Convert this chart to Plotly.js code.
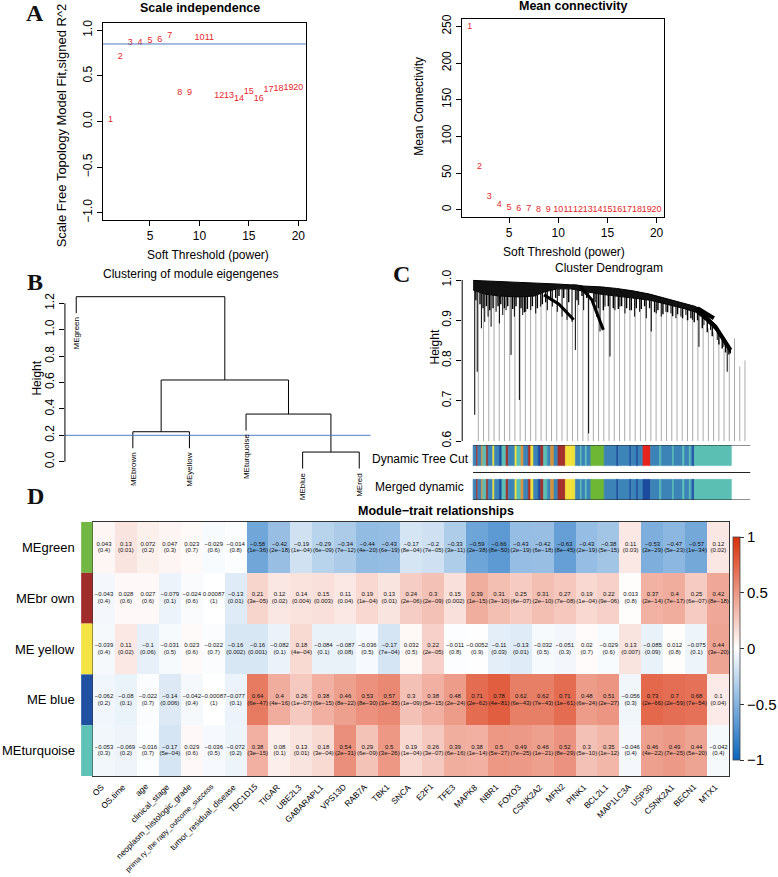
<!DOCTYPE html>
<html><head><meta charset="utf-8">
<script src="https://cdn.plot.ly/plotly-3.0.1.min.js"></script>
<style>html,body{margin:0;padding:0;background:#fff;}#chart{width:778px;height:877px;}</style>
</head><body><div id="chart"></div>
<script>
// ---------------- DATA ----------------
// Panel A: soft-threshold analysis
const powers = [1,2,3,4,5,6,7,8,9,10,11,12,13,14,15,16,17,18,19,20];
const sftFit = [0.02,0.71,0.865,0.86,0.88,0.90,0.94,0.31,0.31,0.92,0.92,0.28,0.285,0.25,0.33,0.25,0.345,0.355,0.373,0.375];
const meanK  = [249,59,18,7.2,2.7,1.4,0.8,0.5,0.35,0.25,0.2,0.15,0.12,0.1,0.08,0.07,0.06,0.05,0.04,0.03];
const r2Cut = 0.85;

// Panel B: eigengene clustering (R hclust style merge table)
const meLeaves = ['MEgreen','MEbrown','MEyellow','MEturquoise','MEblue','MEred'];
const mergeA = [-5,-2,-4,2,-1];
const mergeB = [-6,-3,1,3,4];
const mergeH = [0.073,0.227,0.361,0.619,1.25];
const meCutHeight = 0.2;

// Panel C: gene dendrogram (sketched from picture), leaf fraction positions
const canopyPos    = [0,0.042,0.101,0.161,0.22,0.256,0.304,0.351,0.369,0.399,0.458,0.518,0.577,0.637,0.696,0.756,0.804,0.839,0.875,0.911,0.929];
const canopyTop    = [0.999,0.998,0.996,0.994,0.993,0.992,0.99,0.988,0.988,0.985,0.983,0.979,0.973,0.965,0.954,0.942,0.934,0.913,0.888,0.851,0.83];
const canopyBottom = [0.975,0.965,0.96,0.958,0.96,0.97,0.978,0.978,0.975,0.972,0.965,0.96,0.955,0.95,0.94,0.93,0.92,0.9,0.876,0.838,0.818];
const hairPos    = [0.006,0.015,0.030,0.042,0.054,0.065,0.083,0.095,0.107,0.119,0.137,0.149,0.167,0.179,0.190,0.208,0.226,0.244,0.268,0.286,0.304,0.321,0.339,0.357,0.369,0.381,0.399,0.417,0.435,0.446,0.458,0.476,0.494,0.512,0.530,0.548,0.565,0.583,0.601,0.625,0.643,0.661,0.679,0.696,0.714,0.732,0.750,0.768,0.792,0.815,0.833,0.857,0.881,0.905,0.917];
const hairBottom = [0.665,0.772,0.88,0.896,0.909,0.884,0.921,0.892,0.913,0.925,0.814,0.909,0.702,0.913,0.921,0.925,0.917,0.934,0.925,0.934,0.921,0.909,0.901,0.896,0.826,0.938,0.925,0.619,0.934,0.909,0.872,0.934,0.81,0.925,0.934,0.917,0.925,0.909,0.921,0.905,0.872,0.917,0.909,0.921,0.917,0.905,0.909,0.913,0.901,0.834,0.888,0.876,0.851,0.834,0.772];
const shortHairPos = [0.01,0.025,0.036,0.048,0.06,0.072,0.09,0.1,0.113,0.125,0.143,0.155,0.173,0.185,0.196,0.214,0.232,0.25,0.262,0.28,0.298,0.31,0.327,0.345,0.375,0.393,0.41,0.44,0.452,0.47,0.488,0.506,0.524,0.536,0.554,0.571,0.589,0.607,0.619,0.637,0.655,0.667,0.685,0.702,0.72,0.738,0.756,0.774,0.786,0.798,0.81,0.827,0.845,0.863,0.887,0.899,0.911,0.923];
const shortHairBottom = [0.95,0.94,0.93,0.935,0.925,0.93,0.935,0.94,0.93,0.935,0.928,0.935,0.93,0.92,0.928,0.935,0.93,0.94,0.945,0.95,0.955,0.96,0.955,0.945,0.95,0.96,0.955,0.945,0.93,0.925,0.935,0.93,0.928,0.935,0.93,0.925,0.93,0.928,0.935,0.93,0.92,0.925,0.915,0.92,0.91,0.915,0.905,0.9,0.905,0.895,0.9,0.88,0.87,0.86,0.84,0.83,0.82,0.815];
const grayTop = [0.99,0.99,0.99,0.99,0.99,0.99,0.99,0.99,0.99,0.988,0.985,0.975,0.97,0.965,0.955,0.945,0.935,0.925,0.91,0.985,0.98,0.97,0.955,0.93,0.985,0.98,0.975,0.97,0.965,0.96,0.955,0.95,0.95,0.945,0.94,0.94,0.935,0.935,0.93,0.925,0.92,0.915,0.905,0.89,0.88,0.87,0.85,0.83,0.84,0.855,0.785,0.80];
const armPaths = [
  {pos:[0.256,0.31,0.363], h:[0.963,0.94,0.901], w:3},
  {pos:[0.387,0.429,0.47], h:[0.983,0.95,0.876], w:3},
  {pos:[0.804,0.875,0.929], h:[0.93,0.884,0.826], w:4},
  {pos:[0.81,0.869], h:[0.93,0.905], w:4}
];
// module colour bars
const segStart = [0,0.012,0.017,0.030,0.035,0.048,0.054,0.071,0.077,0.095,0.104,0.119,0.127,0.151,0.158,0.173,0.182,0.199,0.208,0.218,0.235,0.244,0.254,0.268,0.280,0.292,0.306,0.333,0.369,0.387,0.392,0.405,0.411,0.425,0.473,0.518,0.524,0.565,0.570,0.589,0.595,0.613,0.640,0.673,0.679,0.720,0.725,0.756,0.763,0.780,0.786,0.792,0.798];
const segEndLast = 0.932;
const cutColor = ['SB','BR','SB','OR','TQ','BR','SB','YL','SB','DB','TQ','BR','SB','YL','TQ','OR','SB','BR','YL','SB','DB','BR','TQ','SB','OR','SB','BR','YL','SB','TQ','SB','TQ','SB','GR','SB','DB','SB','DB','SB','DB','SB','RD','SB','TQ','SB','TQ','SB','TQ','SB','TQ','SB','DB','TQ'];
const mergedColor = cutColor.map(c => c === 'RD' ? 'DB' : c);
const palette = {SB:'#3C84B8',TQ:'#5BBFB4',BR:'#A3302C',OR:'#D8923A',YL:'#F0E03A',DB:'#1C4A9C',GR:'#6DB735',RD:'#E6251C'};

// Panel D: module-trait heatmap
const traits = ['OS','OS.time','age','clinical_stage','neoplasm_histologic_grade','prima ry_the rapy_outcome_success','tumor_residual_disease','TBC1D15','TIGAR','UBE2L3','GABARAPL1','VPS13D','RAB7A','TBK1','SNCA','E2F1','TFE3','MAPK8','NBR1','FOXO3','CSNK2A2','MFN2','PINK1','BCL2L1','MAP1LC3A','USP30','CSNK2A1','BECN1','MTX1'];
const modules = ['MEgreen','MEbr own','ME yellow','ME blue','MEturquoise'];
const moduleBar = ['#72B744','#A02C2C','#F3E443','#1F50A2','#5EC2B7'];
const corGreen = [0.043,0.13,0.072,0.047,0.023,-0.029,-0.014,-0.58,-0.42,-0.19,-0.29,-0.34,-0.44,-0.43,-0.17,-0.2,-0.33,-0.59,-0.66,-0.43,-0.42,-0.63,-0.43,-0.38,0.11,-0.53,-0.47,-0.57,0.12];
const pGreen = ['0.4','0.01','0.2','0.3','0.7','0.6','0.8','1e-36','2e-18','1e-04','6e-09','7e-12','4e-20','6e-19','8e-04','7e-05','3e-11','2e-38','8e-50','2e-19','6e-18','8e-45','2e-19','5e-15','0.03','2e-29','5e-23','1e-34','0.02'];
const corBrown = [-0.043,0.028,0.027,-0.079,-0.024,0.00087,-0.13,0.21,0.12,0.14,0.15,0.11,0.19,0.13,0.24,0.3,0.15,0.39,0.31,0.25,0.31,0.27,0.19,0.22,0.013,0.37,0.4,0.25,0.42];
const pBrown = ['0.4','0.6','0.6','0.1','0.6','1','0.01','3e-05','0.02','0.004','0.003','0.04','1e-04','0.01','2e-06','2e-09','0.002','1e-15','3e-10','6e-07','2e-10','7e-08','1e-04','9e-06','0.8','2e-14','7e-17','6e-07','8e-18'];
const corYellow = [-0.039,0.11,-0.1,-0.031,0.023,-0.022,-0.16,-0.16,-0.082,0.18,-0.084,-0.087,-0.036,-0.17,0.032,0.22,-0.011,-0.0052,-0.11,-0.13,-0.032,-0.051,0.02,-0.029,0.13,-0.085,0.012,-0.075,0.44];
const pYellow = ['0.4','0.02','0.06','0.5','0.6','0.7','0.002','0.001','0.1','4e-04','0.1','0.08','0.5','7e-04','0.5','2e-05','0.8','0.9','0.03','0.01','0.5','0.3','0.7','0.6','0.007','0.09','0.8','0.1','3e-20'];
const corBlue = [-0.062,-0.08,-0.022,-0.14,-0.042,-0.00087,-0.077,0.64,0.4,0.26,0.38,0.46,0.53,0.57,0.3,0.38,0.48,0.71,0.78,0.62,0.62,0.71,0.48,0.51,-0.056,0.73,0.7,0.68,0.1];
const pBlue = ['0.2','0.1','0.7','0.006','0.4','1','0.1','6e-47','4e-16','1e-07','6e-15','8e-22','8e-30','3e-35','1e-09','5e-15','2e-24','2e-62','4e-81','6e-43','7e-43','1e-61','6e-24','2e-27','0.3','2e-66','2e-59','7e-54','0.04'];
const corTurq = [-0.053,-0.069,-0.016,-0.17,0.029,-0.036,-0.072,0.38,0.08,0.13,0.18,0.54,0.29,0.5,0.19,0.26,0.39,0.38,0.5,0.49,0.46,0.52,0.3,0.35,-0.046,0.46,0.49,0.44,-0.042];
const pTurq = ['0.3','0.2','0.7','5e-04','0.6','0.5','0.2','3e-15','0.1','0.01','3e-04','2e-31','6e-09','3e-26','1e-04','3e-07','6e-16','1e-14','5e-27','7e-25','1e-21','8e-29','5e-10','1e-12','0.4','4e-22','7e-25','5e-20','0.4'];
const corTicks = [-1,-0.5,0,0.5,1];

// ---------------- HELPERS ----------------
const W = 778, H = 877;
const px = x => x / W, py = y => 1 - y / H;
const F = 'Liberation Sans, Arial, sans-serif';
const SERIF = 'Liberation Serif, Times New Roman, serif';
const minus = s => String(s).replace(/-/g, '\u2212');
function ann(text, x, y, o) {
  return Object.assign({text, xref:'paper', yref:'paper', x:px(x), y:py(y), showarrow:false,
    xanchor:'center', yanchor:'middle', font:{family:F, size:12, color:'#000'}}, o || {});
}
function interp(p, xs, ys) {
  if (p <= xs[0]) return ys[0];
  for (let i = 1; i < xs.length; i++) if (p <= xs[i]) {
    const t = (p - xs[i-1]) / (xs[i] - xs[i-1]); return ys[i-1] + t * (ys[i] - ys[i-1]);
  }
  return ys[ys.length - 1];
}

const traces = [], shapes = [], annotations = [];

// ---------------- PANEL A ----------------
traces.push({type:'scatter', mode:'text', x:powers, y:sftFit, text:powers.map(String),
  textfont:{family:F, size:9, color:'#E3262B'}, xaxis:'x', yaxis:'y', hoverinfo:'skip', cliponaxis:false});
traces.push({type:'scatter', mode:'text', x:powers, y:meanK, text:powers.map(String),
  textfont:{family:F, size:9, color:'#E3262B'}, xaxis:'x2', yaxis:'y2', hoverinfo:'skip', cliponaxis:false});
shapes.push({type:'line', xref:'x domain', yref:'y', x0:0, x1:1, y0:r2Cut, y1:r2Cut, line:{color:'#4F7CC2', width:1}});

// ---------------- PANEL B ----------------
(function(){
  const hang = 0.1 * Math.max(...mergeH);
  const nodeX = [], nodeH = [];
  const segX = [], segY = [];
  for (let i = 0; i < mergeH.length; i++) {
    const h = mergeH[i];
    const ch = [mergeA[i], mergeB[i]].map(c => c < 0 ? {x:-c, y:h - hang, leaf:-c} : {x:nodeX[c-1], y:nodeH[c-1]});
    ch.forEach(c => {
      segX.push(c.x, c.x, null); segY.push(c.y, h, null);
      if (c.leaf) annotations.push({text:meLeaves[c.leaf-1], xref:'x3', yref:'y3', x:c.x, y:c.y, yshift:-2,
        showarrow:false, textangle:-90, xanchor:'center', yanchor:'top', font:{family:F, size:8, color:'#000'}});
    });
    segX.push(ch[0].x, ch[1].x, null); segY.push(h, h, null);
    nodeX.push((ch[0].x + ch[1].x) / 2); nodeH.push(h);
  }
  traces.push({type:'scatter', mode:'lines', x:segX, y:segY, line:{color:'#000', width:1},
    xaxis:'x3', yaxis:'y3', hoverinfo:'skip', cliponaxis:false});
})();
shapes.push({type:'line', xref:'x3 domain', yref:'y3', x0:0, x1:1, y0:meCutHeight, y1:meCutHeight, line:{color:'#4F7CC2', width:1}});
shapes.push({type:'line', xref:'x3 domain', yref:'y3', x0:0, x1:0, y0:0, y1:1.2, line:{color:'#000', width:1}});

// ---------------- PANEL C ----------------
(function(){
  const gx = [], gy = [];
  grayTop.forEach((t, i) => { const p = (i + 1) / (grayTop.length + 1); gx.push(p, p, null); gy.push(t, 0.6, null); });
  traces.push({type:'scatter', mode:'lines', x:gx, y:gy, line:{color:'#A0A0A0', width:0.9}, xaxis:'x4', yaxis:'y4', hoverinfo:'skip'});
  const hx = [], hy = [];
  hairPos.forEach((p, i) => { hx.push(p, p, null); hy.push(interp(p, canopyPos, canopyBottom), hairBottom[i], null); });
  traces.push({type:'scatter', mode:'lines', x:hx, y:hy, line:{color:'#000', width:1}, xaxis:'x4', yaxis:'y4', hoverinfo:'skip'});
  const sx = [], sy = [];
  shortHairPos.forEach((p, i) => { sx.push(p, p, null); sy.push(interp(p, canopyPos, canopyBottom), shortHairBottom[i], null); });
  traces.push({type:'scatter', mode:'lines', x:sx, y:sy, line:{color:'#000', width:1.4}, xaxis:'x4', yaxis:'y4', hoverinfo:'skip'});
  traces.push({type:'scatter', mode:'lines', x:canopyPos.concat(canopyPos.slice().reverse()),
    y:canopyTop.concat(canopyBottom.slice().reverse()), fill:'toself', fillcolor:'#111',
    line:{color:'#000', width:1}, xaxis:'x4', yaxis:'y4', hoverinfo:'skip', cliponaxis:false});
  armPaths.forEach(a => traces.push({type:'scatter', mode:'lines', x:a.pos, y:a.h, line:{color:'#000', width:a.w},
    xaxis:'x4', yaxis:'y4', hoverinfo:'skip'}));
  const ends = segStart.slice(1).concat([segEndLast]);
  const widths = segStart.map((s, i) => ends[i] - s);
  [[cutColor, 0], [mergedColor, 1]].forEach(([cols, row]) => {
    const c = cols.map(k => palette[k]);
    traces.push({type:'bar', orientation:'h', base:segStart, x:widths, y:segStart.map(() => row), width:1,
      marker:{color:c, line:{color:c, width:0.6}}, xaxis:'x5', yaxis:'y5', hoverinfo:'skip'});
  });
})();
shapes.push({type:'line', xref:'x4 domain', yref:'y4', x0:0, x1:0, y0:0.6, y1:1.0, line:{color:'#000', width:1}});
[-0.5, 0.5, 1.5].forEach(v => shapes.push({type:'line', xref:'x5', yref:'y5', x0:0, x1:1, y0:v, y1:v, line:{color:'#222', width:1}}));

// ---------------- PANEL D ----------------
const corRows = [corGreen, corBrown, corYellow, corBlue, corTurq];
const pRows = [pGreen, pBrown, pYellow, pBlue, pTurq];
const colIdx = traits.map((_, i) => i), rowIdx = modules.map((_, i) => i);
traces.push({type:'heatmap', z:corRows, x:colIdx, y:rowIdx, zmin:-1, zmax:1,
  colorscale:[[0,'#0A66BD'],[0.5,'#FFFFFF'],[1,'#D9300A']],
  xaxis:'x6', yaxis:'y6', hoverinfo:'skip',
  colorbar:{x:px(741), xanchor:'left', xpad:0, y:py(648.5), yanchor:'middle', ypad:0, len:223, lenmode:'pixels',
    thickness:7, thicknessmode:'pixels', outlinewidth:0.8, outlinecolor:'#444', tickvals:corTicks,
    ticktext:corTicks.map(minus), ticks:'outside', ticklen:4, tickcolor:'#333',
    tickfont:{family:F, size:15, color:'#000'}}});
(function(){
  const vx = [], vy = [], vt = [], qy = [], qt = [];
  corRows.forEach((row, r) => row.forEach((v, c) => {
    vx.push(c); vy.push(r - 0.065); vt.push(minus(v));
    qy.push(r + 0.065); qt.push('(' + minus(pRows[r][c]) + ')');
  }));
  traces.push({type:'scatter', mode:'text', x:vx, y:vy, text:vt, textfont:{family:F, size:6, color:'#111'}, xaxis:'x6', yaxis:'y6', hoverinfo:'skip'});
  traces.push({type:'scatter', mode:'text', x:vx, y:qy, text:qt, textfont:{family:F, size:6, color:'#111'}, xaxis:'x6', yaxis:'y6', hoverinfo:'skip'});
})();
modules.forEach((m, i) => {
  shapes.push({type:'rect', xref:'paper', yref:'y6', x0:px(82), x1:px(93.5), y0:i - 0.5, y1:i + 0.5, fillcolor:moduleBar[i], line:{width:0}});
  annotations.push({text:m, xref:'paper', yref:'y6', x:px(78), y:i, xanchor:'right', yanchor:'middle', showarrow:false,
    font:{family:F, size:13, color:'#000'}});
});
// rotated trait labels under the heatmap
traits.forEach((t, i) => annotations.push({text:t, xref:'x6', yref:'paper', x:i, y:py(779), xshift:5,
  xanchor:'right', yanchor:'top', textangle:-45, showarrow:false,
  font:{family:F, size:(t.length > 30 ? 7.4 : 8.4), color:'#000'}}));

// ---------------- TITLES / LABELS ----------------
annotations.push(
  ann('<b>Scale independence</b>', 202.5, 8, {font:{family:F, size:12.5, color:'#000'}}),
  ann('<b>Mean connectivity</b>', 579, 6, {font:{family:F, size:12.5, color:'#000'}}),
  ann('Scale Free Topology Model Fit,signed R^2', 62, 125, {textangle:-90, font:{family:F, size:13, color:'#000'}}),
  ann('Soft Threshold (power)', 210, 255),
  ann('Mean Connectivity', 423, 106, {textangle:-90}),
  ann('Soft Threshold (power)', 570, 252),
  ann('Clustering of module eigengenes', 192, 274),
  ann('Height', 37, 378, {textangle:-90}),
  ann('Cluster Dendrogram', 615, 268),
  ann('Height', 440, 347, {textangle:-90}),
  ann('Dynamic Tree Cut', 476, 459, {xanchor:'right'}),
  ann('Merged dynamic', 471, 487, {xanchor:'right'}),
  ann('<b>Module\u2212trait relationships</b>', 441, 511, {font:{family:F, size:12.5, color:'#000'}}),
  ann('<b>A</b>', 35, 13, {font:{family:SERIF, size:24, color:'#111'}}),
  ann('<b>B</b>', 35, 282, {font:{family:SERIF, size:24, color:'#111'}}),
  ann('<b>C</b>', 406, 274, {font:{family:SERIF, size:24, color:'#111'}}),
  ann('<b>D</b>', 36, 496, {font:{family:SERIF, size:24, color:'#111'}})
);

// ---------------- AXES ----------------
const tf = {family:F, size:12, color:'#000'};
const box = {showgrid:false, zeroline:false, showline:true, mirror:true, linecolor:'#000', linewidth:1,
  ticks:'outside', ticklen:5, tickcolor:'#000', tickfont:tf};
const hidden = {visible:false, showgrid:false, zeroline:false};
const layout = {
  width:W, height:H, margin:{l:0, r:0, t:0, b:0}, paper_bgcolor:'#fff', plot_bgcolor:'rgba(0,0,0,0)',
  showlegend:false, bargap:0, font:{family:F},
  xaxis: Object.assign({}, box, {domain:[px(104), px(309)], range:[0.24, 20.76], tickvals:[5,10,15,20], anchor:'y'}),
  yaxis: Object.assign({}, box, {domain:[py(220), py(23)], range:[-1.08, 1.08], tickvals:[-1,-0.5,0,0.5,1], tickformat:'.1f', tickangle:-90, anchor:'x'}),
  xaxis2: Object.assign({}, box, {domain:[px(467), px(671)], range:[0.24, 20.76], tickvals:[5,10,15,20], anchor:'y2'}),
  yaxis2: Object.assign({}, box, {domain:[py(217), py(19)], range:[-10, 260], tickvals:[0,50,100,150,200,250], tickangle:-90, anchor:'x2'}),
  xaxis3: Object.assign({}, hidden, {domain:[px(65.6), px(374.4)], range:[0.8, 6.2], anchor:'y3'}),
  yaxis3: {domain:[py(474.9), py(290.1)], range:[-0.1, 1.3], showgrid:false, zeroline:false, showline:false,
    ticks:'outside', ticklen:5, tickcolor:'#000', tickfont:tf, tickvals:[0,0.2,0.4,0.6,0.8,1.0,1.2], tickformat:'.1f', tickangle:-90, anchor:'x3'},
  xaxis4: Object.assign({}, hidden, {domain:[px(467), px(760)], range:[-0.0393, 1.00714], anchor:'y4'}),
  yaxis4: {domain:[py(441), py(276)], range:[0.6, 1.00994], showgrid:false, zeroline:false, showline:false,
    ticks:'outside', ticklen:5, tickcolor:'#000', tickfont:tf, tickvals:[0.6,0.7,0.8,0.9,1.0], tickformat:'.1f', tickangle:-90, anchor:'x4'},
  xaxis5: Object.assign({}, hidden, {domain:[px(467), px(760)], range:[-0.0393, 1.00714], anchor:'y5'}),
  yaxis5: Object.assign({}, hidden, {domain:[py(500), py(445)], range:[1.5, -0.5], anchor:'x5'}),
  xaxis6: {domain:[px(94), px(737)], range:[-0.5, 28.5], showticklabels:false, ticks:'',
    showgrid:false, zeroline:false, showline:true, mirror:true, linecolor:'#333', linewidth:1, anchor:'y6'},
  yaxis6: {domain:[py(776), py(522)], range:[4.5, -0.5], showticklabels:false, ticks:'', showgrid:false, zeroline:false,
    showline:true, mirror:true, linecolor:'#333', linewidth:1, anchor:'x6'},
  shapes, annotations
};
Plotly.newPlot('chart', traces, layout, {staticPlot:true, displayModeBar:false});
</script></body></html>
